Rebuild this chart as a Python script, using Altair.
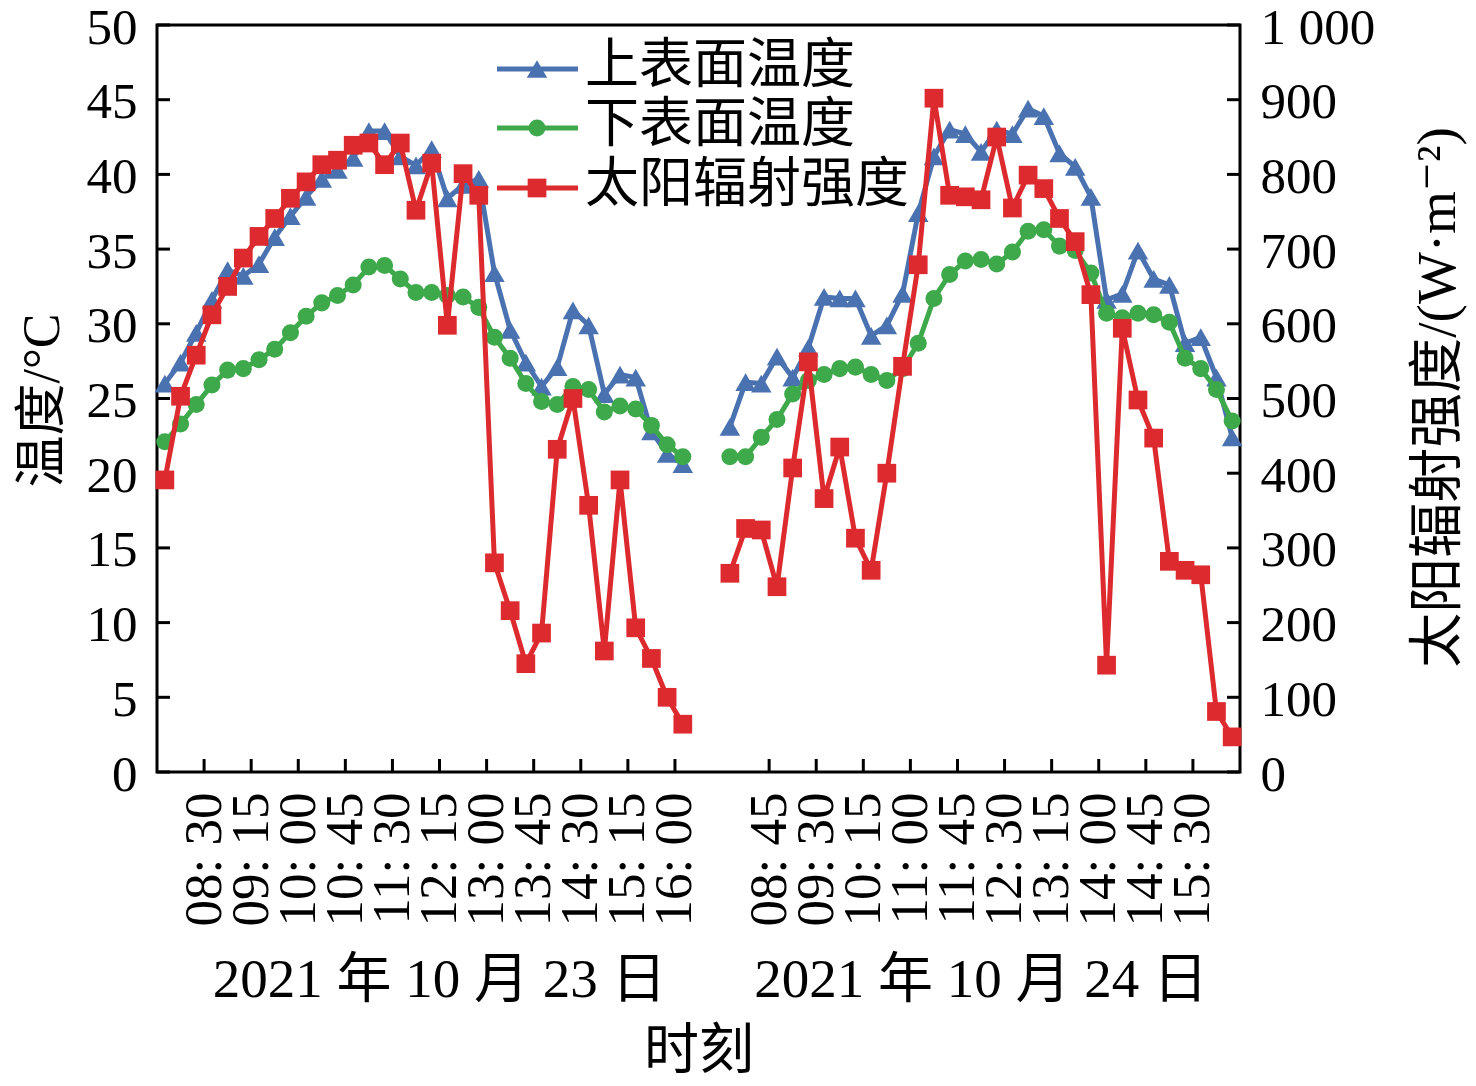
import json
import altair as alt
import pandas as pd

# ---------------- data ----------------
series_names = ["上表面温度", "下表面温度", "太阳辐射强度"]
series_colors = ["#4a72b0", "#3ea94b", "#dc2a2e"]
series_shapes = ["triangle-up", "circle", "square"]

day_labels = ["2021 年 10 月 23 日", "2021 年 10 月 24 日"]
day_start_slot = [0, 36]
n_slots = 69

# upper surface temperature (°C)
upper_d1 = [26.0, 27.4, 29.4, 31.6, 33.6, 33.2, 34.0, 35.8, 37.2, 38.5, 39.7, 40.3,
            41.1, 42.9, 42.9, 41.2, 40.6, 41.7, 38.4, 39.3, 39.7, 33.4, 29.6, 27.4,
            25.8, 27.1, 30.9, 29.9, 25.3, 26.6, 26.4, 22.8, 21.3, 20.6]
upper_d2 = [23.1, 26.1, 26.0, 27.8, 26.4, 28.4, 31.8, 31.7, 31.7, 29.2, 29.9, 32.0,
            37.4, 41.2, 43.0, 42.7, 41.5, 43.0, 42.7, 44.4, 43.9, 41.4, 40.5, 38.5,
            31.6, 32.0, 34.9, 33.0, 32.6, 28.7, 29.1, 26.4, 22.4]
# lower surface temperature (°C)
lower_d1 = [22.1, 23.3, 24.6, 25.9, 26.9, 27.0, 27.6, 28.3, 29.4, 30.5, 31.4, 31.9,
            32.6, 33.8, 33.9, 33.0, 32.1, 32.1, 31.9, 31.8, 31.1, 29.1, 27.7, 26.0,
            24.8, 24.6, 25.8, 25.6, 24.1, 24.5, 24.3, 23.2, 21.9, 21.1]
lower_d2 = [21.1, 21.1, 22.4, 23.6, 25.3, 26.2, 26.6, 27.0, 27.1, 26.6, 26.2, 27.0,
            28.7, 31.7, 33.3, 34.2, 34.3, 34.0, 34.8, 36.2, 36.3, 35.2, 34.9, 33.4,
            30.7, 30.4, 30.7, 30.6, 30.1, 27.7, 27.0, 25.6, 23.5]
# solar radiation intensity (W/m2)
solar_d1 = [391, 503, 558, 612, 650, 688, 717, 741, 768, 790, 813, 819,
            839, 842, 813, 842, 752, 815, 598, 801, 772, 280, 216, 145,
            186, 432, 500, 357, 162, 391, 193, 152, 100, 64]
solar_d2 = [266, 326, 324, 248, 407, 549, 366, 435, 313, 270, 400, 543,
            679, 902, 772, 770, 766, 850, 755, 799, 781, 741, 710, 639,
            143, 594, 498, 447, 282, 270, 264, 81, 47]

x_tick_values = [3, 6, 9, 12, 15, 18, 21, 24, 27, 30, 33,
                 39, 42, 45, 48, 51, 54, 57, 60, 63, 66]
x_tick_labels = ["08: 30", "09: 15", "10: 00", "10: 45", "11: 30", "12: 15",
                 "13: 00", "13: 45", "14: 30", "15: 15", "16: 00",
                 "08: 45", "09: 30", "10: 15", "11: 00", "11: 45", "12: 30",
                 "13: 15", "14: 00", "14: 45", "15: 30"]
y_left_ticks = list(range(0, 51, 5))
y_right_ticks = list(range(0, 1001, 100))


def build(series, d1, d2):
    rows = []
    for day, vals in enumerate([d1, d2]):
        for i, v in enumerate(vals):
            rows.append({"x": day_start_slot[day] + i + 0.5, "value": v,
                         "day": day_labels[day], "series": series})
    return pd.DataFrame(rows)


df_upper = build(series_names[0], upper_d1, upper_d2)
df_lower = build(series_names[1], lower_d1, lower_d2)
df_solar = build(series_names[2], solar_d1, solar_d2)

# ---------------- styling ----------------
SERIF = "Liberation Serif, DejaVu Serif, Noto Sans CJK SC"
W, H = 1083, 747
LW = 5
marker_sizes = [420, 290, 350]

label_expr_x = "{}[indexof({}, datum.value)]".format(
    json.dumps(x_tick_labels, ensure_ascii=False), json.dumps(x_tick_values))

x_enc = alt.X(
    "x:Q",
    scale=alt.Scale(domain=[0, n_slots], nice=False, zero=False),
    axis=alt.Axis(values=x_tick_values, labelExpr=label_expr_x, labelAngle=270,
                  ticks=False, domain=False, grid=False, labelFlush=False,
                  labelOverlap=False, labelFont=SERIF, labelFontSize=53,
                  labelColor="black", labelPadding=20,
                  title="时刻", titleFont=SERIF, titleFontSize=55,
                  titleFontWeight="normal", titleColor="black",
                  titleY=278, titleBaseline="middle"),
)

y_left = alt.Y(
    "value:Q",
    scale=alt.Scale(domain=[0, 50], nice=False, zero=True),
    axis=alt.Axis(values=y_left_ticks, ticks=False, domain=False, grid=False,
                  labelFlush=False, labelOverlap=False, labelFont=SERIF,
                  labelFontSize=51, labelColor="black", labelPadding=20,
                  labelOffset=3,
                  title="温度/°C", titleFont=SERIF, titleFontSize=52,
                  titleFontWeight="normal", titleColor="black", titleAngle=270,
                  titleX=-115, titleY=375, titleAlign="center",
                  titleBaseline="middle"),
)

y_right = alt.Y(
    "value:Q",
    scale=alt.Scale(domain=[0, 1000], nice=False, zero=True),
    axis=alt.Axis(orient="right", values=y_right_ticks, ticks=False, domain=False,
                  grid=False, labelFlush=False, labelOverlap=False,
                  labelExpr="datum.value == 1000 ? '1 000' : datum.label",
                  labelFont=SERIF, labelFontSize=51, labelColor="black",
                  labelPadding=20, labelOffset=3,
                  title="太阳辐射强度/(W·m⁻²)", titleFont=SERIF, titleFontSize=55,
                  titleFontWeight="normal", titleColor="black", titleAngle=270,
                  titleX=197, titleY=372, titleAlign="center",
                  titleBaseline="middle"),
)


def series_layers(df, color, shape, size, y_enc):
    line = alt.Chart(df).mark_line(color=color, strokeWidth=LW).encode(
        x=x_enc, y=y_enc, detail="day:N")
    pts = alt.Chart(df).mark_point(shape=shape, filled=True, color=color,
                                   size=size, opacity=1).encode(x=x_enc, y=y_enc)
    return [line, pts]


upper_layers = series_layers(df_upper, series_colors[0], series_shapes[0], marker_sizes[0], y_left)
lower_layers = series_layers(df_lower, series_colors[1], series_shapes[1], marker_sizes[1], y_left)
solar_layers = series_layers(df_solar, series_colors[2], series_shapes[2], marker_sizes[2], y_right)

# inward tick marks
left_ticks = alt.Chart(pd.DataFrame({"value": y_left_ticks})).mark_rule(
    color="black", strokeWidth=3).encode(y=y_left, x=alt.value(0), x2=alt.value(13))
bottom_ticks = alt.Chart(pd.DataFrame({"x": x_tick_values})).mark_rule(
    color="black", strokeWidth=3).encode(x=x_enc, y=alt.value(H - 13), y2=alt.value(H))
right_ticks = alt.Chart(pd.DataFrame({"value": y_right_ticks})).mark_rule(
    color="black", strokeWidth=3).encode(y=y_right, x=alt.value(W - 13), x2=alt.value(W))

# day labels under the time labels, centred on each day's tick range
day_centers = [(x_tick_values[0] + x_tick_values[10]) / 2,
               (x_tick_values[11] + x_tick_values[-1]) / 2]
day_df = pd.DataFrame({"x": day_centers, "label": day_labels})
day_text = alt.Chart(day_df).mark_text(
    font=SERIF, fontSize=55, color="black", align="center", baseline="middle"
).encode(x=x_enc, y=alt.value(955), text="label:N")

left = alt.layer(*upper_layers, *lower_layers, left_ticks, bottom_ticks, day_text)
right = alt.layer(*solar_layers, right_ticks)

# legend (drawn inside the plot, top centre)
legend_layers = []
leg_y = [44, 103, 163]
for k in range(3):
    one = pd.DataFrame({"label": [series_names[k]]})
    base = alt.Chart(one)
    legend_layers.append(base.mark_rule(color=series_colors[k], strokeWidth=LW).encode(
        x=alt.value(340), x2=alt.value(421), y=alt.value(leg_y[k])))
    legend_layers.append(base.mark_point(
        shape=series_shapes[k], filled=True, color=series_colors[k],
        size=marker_sizes[k], opacity=1).encode(
        x=alt.value(380), y=alt.value(leg_y[k])))
    legend_layers.append(base.mark_text(
        font=SERIF, fontSize=54, color="black", align="left", baseline="middle"
    ).encode(x=alt.value(428), y=alt.value(leg_y[k] - 2), text="label:N"))

chart = alt.layer(left, right, *legend_layers).resolve_scale(
    y="independent"
).properties(
    width=W, height=H,
    autosize=alt.AutoSizeParams(type="none"),
    padding={"left": 149, "top": 17, "right": 228, "bottom": 306},
    background="white",
).configure_view(stroke="black", strokeWidth=3)

chart.save("out.html", embed_options={"renderer": "svg", "actions": False})
